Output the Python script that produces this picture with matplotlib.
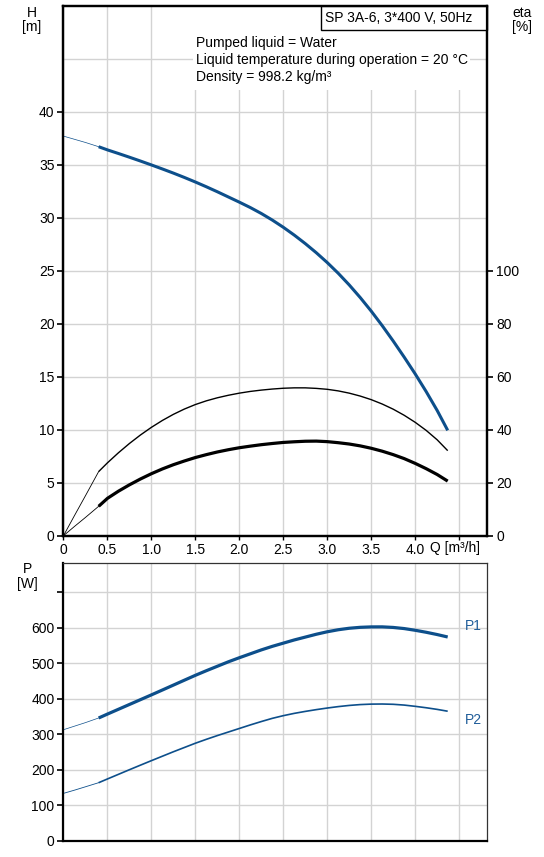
import matplotlib
matplotlib.use("Agg")
import matplotlib.pyplot as plt
from matplotlib.patches import Rectangle
import numpy as np

plt.rcParams['font.family'] = ['Liberation Sans', 'DejaVu Sans']
plt.rcParams['font.size'] = 10

q = np.array([0, 0.125, 0.25, 0.4, 0.5, 0.625, 0.75, 0.875, 1.0, 1.125, 1.25,
              1.375, 1.5, 1.625, 1.75, 1.875, 2.0, 2.125, 2.25, 2.375, 2.5,
              2.625, 2.75, 2.875, 3.0, 3.125, 3.25, 3.375, 3.5, 3.625, 3.75,
              3.875, 4.0, 4.125, 4.25, 4.37])
head = np.array([37.7, 37.4, 37.1, 36.7, 36.4, 36.06, 35.71, 35.35, 34.98,
                 34.6, 34.21, 33.8, 33.37, 32.92, 32.45, 31.96, 31.47, 30.96,
                 30.4, 29.78, 29.1, 28.36, 27.56, 26.7, 25.77, 24.76, 23.66,
                 22.47, 21.19, 19.82, 18.37, 16.85, 15.27, 13.6, 11.82, 9.94])
eta_pump = np.array([0, 7.6, 15.1, 24.2, 27.5, 31.3, 34.8, 38.0, 40.9, 43.5,
                     45.8, 47.8, 49.5, 50.9, 52.05, 53.0, 53.8, 54.45, 54.95,
                     55.35, 55.65, 55.8, 55.8, 55.6, 55.25, 54.65, 53.8, 52.7,
                     51.35, 49.7, 47.75, 45.45, 42.8, 39.75, 36.2, 32.1])
eta_total = np.array([0, 3.5, 6.9, 11.1, 14.1, 16.8, 19.2, 21.4, 23.4, 25.2,
                      26.8, 28.2, 29.5, 30.6, 31.6, 32.45, 33.2, 33.8, 34.35,
                      34.8, 35.2, 35.45, 35.65, 35.7, 35.5, 35.1, 34.6, 33.9,
                      33.0, 31.9, 30.6, 29.1, 27.3, 25.3, 23.1, 20.6])
p1 = np.array([313, 323, 333, 346, 357, 370.5, 384, 397.5, 411, 424.7, 438.5,
               452.3, 466, 479, 491.5, 504, 515.5, 526.5, 537.5, 547.5, 556.5,
               565.5, 573.5, 581.5, 588.5, 594.2, 598.4, 601, 602.2, 602.3,
               600.7, 597.5, 592.7, 587.1, 580.7, 573.8])
p2 = np.array([134, 143, 152.5, 164, 174.5, 187.5, 200.5, 213.3, 226, 238.5,
               251, 263, 275, 286, 296.5, 306.5, 316.5, 326.5, 336, 345, 352.5,
               359, 364.5, 369.5, 374, 378, 381.3, 383.7, 385, 385.3, 384.5,
               382.3, 378.8, 374.8, 370.2, 365])

q_start = 0.4  # curves are drawn thin below this flow
x_ticks = [0, 0.5, 1.0, 1.5, 2.0, 2.5, 3.0, 3.5, 4.0, 4.5]
x_labels = ['0', '0.5', '1.0', '1.5', '2.0', '2.5', '3.0', '3.5', '4.0', '']
h_ticks = [0, 5, 10, 15, 20, 25, 30, 35, 40]
eta_ticks = [0, 20, 40, 60, 80, 100]
p_ticks = [0, 100, 200, 300, 400, 500, 600, 700]
p_labels = ['0', '100', '200', '300', '400', '500', '600', '']

info = ['Pumped liquid = Water',
        'Liquid temperature during operation = 20 \u00b0C',
        'Density = 998.2 kg/m\u00b3']
title = 'SP 3A-6, 3*400 V, 50Hz'

blue = '#0d4f8b'
grid_c = '#d3d3d3'
W, H = 544, 857


def px(x, y):
    return x / W, 1 - y / H


def split_plot(ax, x, y, color, lw_thin, lw_thick):
    lo = x <= q_start
    hi = x >= q_start
    ax.plot(x[lo], y[lo], color=color, lw=lw_thin)
    ax.plot(x[hi], y[hi], color=color, lw=lw_thick, solid_capstyle='butt',
            solid_joinstyle='round')


fig = plt.figure(figsize=(W / 100, H / 100), dpi=100)
ax1 = fig.add_axes([0.1167, 0.3749, 0.779, 0.6184])
ax2 = fig.add_axes([0.1167, 0.01867, 0.779, 0.324])

for ax in (ax1, ax2):
    ax.set_xlim(0, 4.82)
    ax.set_xticks(x_ticks)
    ax.set_axisbelow(True)
    ax.grid(True, which='both', color=grid_c, lw=1.0)
    ax.tick_params(axis='y', direction='out', length=4.5, width=1.2, pad=2)

# head / efficiency chart
ax1.set_ylim(0, 50)
ax1.set_yticks(h_ticks)
ax1.set_yticks([45], minor=True)
ax1.tick_params(axis='y', which='minor', length=0)
ax1.set_xticklabels(x_labels)
ax1.tick_params(axis='x', direction='out', length=3, width=1.0, pad=2)
for s in ax1.spines.values():
    s.set_linewidth(1.6)

ax1r = ax1.twinx()
ax1r.set_ylim(0, 200)
ax1r.set_yticks(eta_ticks)
ax1r.tick_params(axis='y', direction='out', length=4.5, width=1.2, pad=2)
for s in ax1r.spines.values():
    s.set_linewidth(1.6)

ax1.add_patch(Rectangle((0.3056, 0.841), 0.653, 0.159, transform=ax1.transAxes,
                        facecolor='white', edgecolor='none', zorder=1))
ax1.add_patch(Rectangle((0.607, 0.954), 0.393, 0.046, transform=ax1.transAxes,
                        facecolor='white', edgecolor='black', lw=1.0, zorder=3,
                        clip_on=False))
ax1.text(0.617, 0.977, title, transform=ax1.transAxes, va='center', ha='left',
         zorder=4)
for i, line in enumerate(info):
    ax1.text(0.3127, 0.929 - i * 0.0322, line, transform=ax1.transAxes,
             va='center', ha='left', zorder=4)

split_plot(ax1, q, head, blue, 0.5, 2.2)
split_plot(ax1r, q, eta_pump, 'black', 0.6, 1.0)
split_plot(ax1r, q, eta_total, 'black', 0.6, 2.3)

fig.text(*px(32, 13), 'H', ha='center', va='center')
fig.text(*px(32, 27), '[m]', ha='center', va='center')
fig.text(*px(522, 13), 'eta', ha='center', va='center')
fig.text(*px(522, 27), '[%]', ha='center', va='center')
fig.text(*px(430, 548), 'Q [m\u00b3/h]', ha='left', va='center')

# power chart
ax2.set_ylim(0, 781)
ax2.set_yticks(p_ticks)
ax2.set_yticklabels(p_labels)
ax2.tick_params(axis='x', length=0, labelbottom=False)
ax2.spines['left'].set_linewidth(1.6)
ax2.spines['bottom'].set_linewidth(1.6)
ax2.spines['top'].set_linewidth(0.9)
ax2.spines['right'].set_linewidth(0.9)
ax2.spines['top'].set_color('#333333')
ax2.spines['right'].set_color('#333333')

split_plot(ax2, q, p1, blue, 0.5, 2.3)
split_plot(ax2, q, p2, blue, 0.6, 1.2)
ax2.text(4.57, 605, 'P1', color='#1f5c99', ha='left', va='center')
ax2.text(4.57, 341, 'P2', color='#1f5c99', ha='left', va='center')

fig.text(*px(27, 569), 'P', ha='center', va='center')
fig.text(*px(27, 584), '[W]', ha='center', va='center')

fig.savefig('out.png', dpi=100)
